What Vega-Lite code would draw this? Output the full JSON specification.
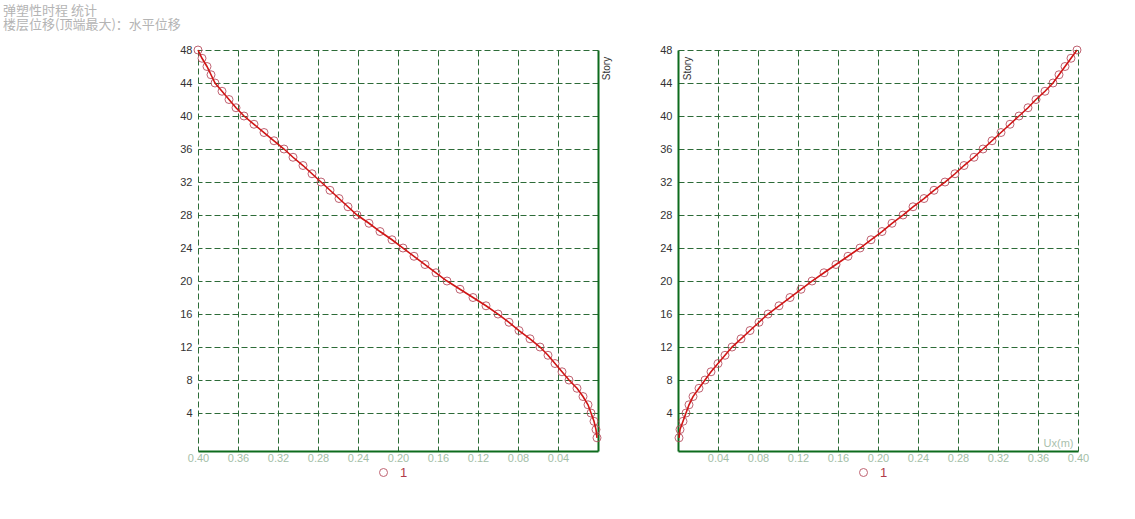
{
  "$schema": "https://vega.github.io/schema/vega-lite/v6.json",
  "padding": {"left": 3, "top": 5, "right": 5, "bottom": 5},
  "background": "#ffffff",
  "title": {
    "text": "弹塑性时程 统计",
    "subtitle": "楼层位移(顶端最大)：水平位移",
    "anchor": "start",
    "frame": "group",
    "dx": -195,
    "offset": 12,
    "font": "Noto Sans CJK SC",
    "fontSize": 13,
    "fontWeight": "normal",
    "color": "#b4b4b4",
    "subtitleFont": "Noto Sans CJK SC",
    "subtitleFontSize": 13,
    "subtitleColor": "#b4b4b4",
    "subtitlePadding": 1
  },
  "datasets": {
    "left": [
      {"story": 1, "disp": 0.001}, {"story": 2, "disp": 0.002}, {"story": 3, "disp": 0.004}, {"story": 4, "disp": 0.007},
      {"story": 5, "disp": 0.010}, {"story": 6, "disp": 0.015}, {"story": 7, "disp": 0.021}, {"story": 8, "disp": 0.029},
      {"story": 9, "disp": 0.036}, {"story": 10, "disp": 0.043}, {"story": 11, "disp": 0.050}, {"story": 12, "disp": 0.058},
      {"story": 13, "disp": 0.068}, {"story": 14, "disp": 0.079}, {"story": 15, "disp": 0.089}, {"story": 16, "disp": 0.100},
      {"story": 17, "disp": 0.112}, {"story": 18, "disp": 0.125}, {"story": 19, "disp": 0.138}, {"story": 20, "disp": 0.151},
      {"story": 21, "disp": 0.162}, {"story": 22, "disp": 0.173}, {"story": 23, "disp": 0.184}, {"story": 24, "disp": 0.195},
      {"story": 25, "disp": 0.206}, {"story": 26, "disp": 0.218}, {"story": 27, "disp": 0.229}, {"story": 28, "disp": 0.241},
      {"story": 29, "disp": 0.250}, {"story": 30, "disp": 0.259}, {"story": 31, "disp": 0.268}, {"story": 32, "disp": 0.277},
      {"story": 33, "disp": 0.286}, {"story": 34, "disp": 0.295}, {"story": 35, "disp": 0.305}, {"story": 36, "disp": 0.314},
      {"story": 37, "disp": 0.324}, {"story": 38, "disp": 0.334}, {"story": 39, "disp": 0.344}, {"story": 40, "disp": 0.354},
      {"story": 41, "disp": 0.362}, {"story": 42, "disp": 0.369}, {"story": 43, "disp": 0.376}, {"story": 44, "disp": 0.383},
      {"story": 45, "disp": 0.387}, {"story": 46, "disp": 0.391}, {"story": 47, "disp": 0.396}, {"story": 48, "disp": 0.400}
    ],
    "right": [
      {"story": 1, "disp": 0.001}, {"story": 2, "disp": 0.002}, {"story": 3, "disp": 0.005}, {"story": 4, "disp": 0.008},
      {"story": 5, "disp": 0.011}, {"story": 6, "disp": 0.015}, {"story": 7, "disp": 0.021}, {"story": 8, "disp": 0.027},
      {"story": 9, "disp": 0.033}, {"story": 10, "disp": 0.040}, {"story": 11, "disp": 0.047}, {"story": 12, "disp": 0.054},
      {"story": 13, "disp": 0.063}, {"story": 14, "disp": 0.072}, {"story": 15, "disp": 0.081}, {"story": 16, "disp": 0.090},
      {"story": 17, "disp": 0.101}, {"story": 18, "disp": 0.112}, {"story": 19, "disp": 0.123}, {"story": 20, "disp": 0.134},
      {"story": 21, "disp": 0.146}, {"story": 22, "disp": 0.158}, {"story": 23, "disp": 0.170}, {"story": 24, "disp": 0.182},
      {"story": 25, "disp": 0.193}, {"story": 26, "disp": 0.204}, {"story": 27, "disp": 0.214}, {"story": 28, "disp": 0.225},
      {"story": 29, "disp": 0.235}, {"story": 30, "disp": 0.246}, {"story": 31, "disp": 0.256}, {"story": 32, "disp": 0.267},
      {"story": 33, "disp": 0.277}, {"story": 34, "disp": 0.286}, {"story": 35, "disp": 0.296}, {"story": 36, "disp": 0.305},
      {"story": 37, "disp": 0.314}, {"story": 38, "disp": 0.323}, {"story": 39, "disp": 0.332}, {"story": 40, "disp": 0.341},
      {"story": 41, "disp": 0.350}, {"story": 42, "disp": 0.358}, {"story": 43, "disp": 0.367}, {"story": 44, "disp": 0.375},
      {"story": 45, "disp": 0.381}, {"story": 46, "disp": 0.387}, {"story": 47, "disp": 0.393}, {"story": 48, "disp": 0.399}
    ]
  },
  "spacing": 80,
  "bounds": "flush",
  "resolve": {"scale": {"color": "independent", "x": "independent", "y": "independent"}, "legend": {"color": "independent"}},
  "hconcat": [
    {
      "width": 400,
      "height": 401,
      "data": {"name": "left"},
      "layer": [
        {
          "mark": {"type": "point", "shape": "circle", "filled": false, "size": 64, "strokeWidth": 1, "opacity": 0.85},
          "encoding": {
            "x": {
              "field": "disp", "type": "quantitative",
              "scale": {"domain": [0, 0.4], "reverse": true, "nice": false, "zero": false},
              "axis": {
                "orient": "bottom", "values": [0.04, 0.08, 0.12, 0.16, 0.2, 0.24, 0.28, 0.32, 0.36, 0.4],
                "format": ".2f", "grid": true, "gridDash": [6, 3], "gridColor": "#2d6b38", "gridOpacity": 1, "gridWidth": 1,
                "domain": true, "domainColor": "#0d6b1c", "domainWidth": 2, "ticks": false,
                "labelColor": "#a3bea7", "labelFontSize": 11, "labelPadding": 1, "labelFont": "Liberation Sans",
                "labelOverlap": false, "labelBound": false, "labelFlush": false, "title": null
              }
            },
            "y": {
              "field": "story", "type": "quantitative",
              "scale": {"domain": [-0.6, 48], "nice": false, "zero": false},
              "axis": {
                "orient": "left", "values": [4, 8, 12, 16, 20, 24, 28, 32, 36, 40, 44, 48],
                "grid": true, "gridDash": [6, 3], "gridColor": "#2d6b38", "gridOpacity": 1, "gridWidth": 1,
                "domain": false, "ticks": false, "labelPadding": 6, "labelFontSize": 11, "labelColor": "#333333",
                "labelFont": "Liberation Sans", "labelOverlap": false, "labelBound": false, "labelFlush": false,
                "title": null
              }
            },
            "color": {
              "datum": "1", "type": "nominal",
              "scale": {"range": ["#b5485a"]},
              "legend": {
                "orient": "none", "legendX": 179, "legendY": 416, "title": null, "symbolType": "circle",
                "symbolSize": 64, "symbolStrokeWidth": 1, "labelColor": "#b03a4a", "labelFontSize": 13,
                "labelOffset": 10, "padding": 0, "labelFont": "Liberation Sans"
              }
            }
          }
        },
        {
          "mark": {"type": "line", "color": "#d01515", "strokeWidth": 1.6},
          "encoding": {
            "x": {"field": "disp", "type": "quantitative"},
            "y": {
              "field": "story", "type": "quantitative",
              "axis": {
                "orient": "right", "labels": false, "ticks": false, "grid": false, "domain": true,
                "domainColor": "#0d6b1c", "domainWidth": 2, "title": "Story", "titleAngle": -90,
                "titleX": 8, "titleY": 18, "titleAlign": "center", "titleBaseline": "middle",
                "titleFontSize": 10, "titleFontWeight": "normal", "titleColor": "#333333", "titleFont": "Liberation Sans"
              }
            },
            "order": {"field": "story"}
          }
        }
      ],
      "resolve": {"axis": {"y": "independent"}}
    },
    {
      "width": 400,
      "height": 401,
      "data": {"name": "right"},
      "encoding": {
        "x": {
          "field": "disp", "type": "quantitative",
          "scale": {"domain": [0, 0.4], "nice": false, "zero": false},
          "axis": {
            "orient": "bottom", "values": [0.04, 0.08, 0.12, 0.16, 0.2, 0.24, 0.28, 0.32, 0.36, 0.4],
            "format": ".2f", "grid": true, "gridDash": [6, 3], "gridColor": "#2d6b38", "gridOpacity": 1, "gridWidth": 1,
            "domain": true, "domainColor": "#0d6b1c", "domainWidth": 2, "ticks": false,
            "labelColor": "#a3bea7", "labelFontSize": 11, "labelPadding": 1, "labelFont": "Liberation Sans",
            "labelOverlap": false, "labelBound": false, "labelFlush": false,
            "title": "Ux(m)", "titleX": 380, "titleY": -8, "titleAlign": "center", "titleBaseline": "middle",
            "titleFontSize": 11, "titleFontWeight": "normal", "titleColor": "#a9bfad", "titleFont": "Liberation Sans"
          }
        },
        "y": {
          "field": "story", "type": "quantitative",
          "scale": {"domain": [-0.6, 48], "nice": false, "zero": false},
          "axis": {
            "orient": "left", "values": [4, 8, 12, 16, 20, 24, 28, 32, 36, 40, 44, 48],
            "grid": true, "gridDash": [6, 3], "gridColor": "#2d6b38", "gridOpacity": 1, "gridWidth": 1,
            "domain": true, "domainColor": "#0d6b1c", "domainWidth": 2,
            "ticks": false, "labelPadding": 6, "labelFontSize": 11, "labelColor": "#333333",
            "labelFont": "Liberation Sans", "labelOverlap": false, "labelBound": false, "labelFlush": false,
            "title": "Story", "titleAngle": -90, "titleX": 9, "titleY": 18, "titleAlign": "center",
            "titleBaseline": "middle", "titleFontSize": 10, "titleFontWeight": "normal", "titleColor": "#333333",
            "titleFont": "Liberation Sans"
          }
        }
      },
      "layer": [
        {
          "mark": {"type": "point", "shape": "circle", "filled": false, "size": 64, "strokeWidth": 1, "opacity": 0.85},
          "encoding": {
            "color": {
              "datum": "1", "type": "nominal",
              "scale": {"range": ["#b5485a"]},
              "legend": {
                "orient": "none", "legendX": 179, "legendY": 416, "title": null, "symbolType": "circle",
                "symbolSize": 64, "symbolStrokeWidth": 1, "labelColor": "#b03a4a", "labelFontSize": 13,
                "labelOffset": 10, "padding": 0, "labelFont": "Liberation Sans"
              }
            }
          }
        },
        {
          "mark": {"type": "line", "color": "#d01515", "strokeWidth": 1.6},
          "encoding": {
            "order": {"field": "story"}
          }
        }
      ]
    }
  ],
  "config": {
    "view": {"stroke": null},
    "font": "Liberation Sans"
  }
}
